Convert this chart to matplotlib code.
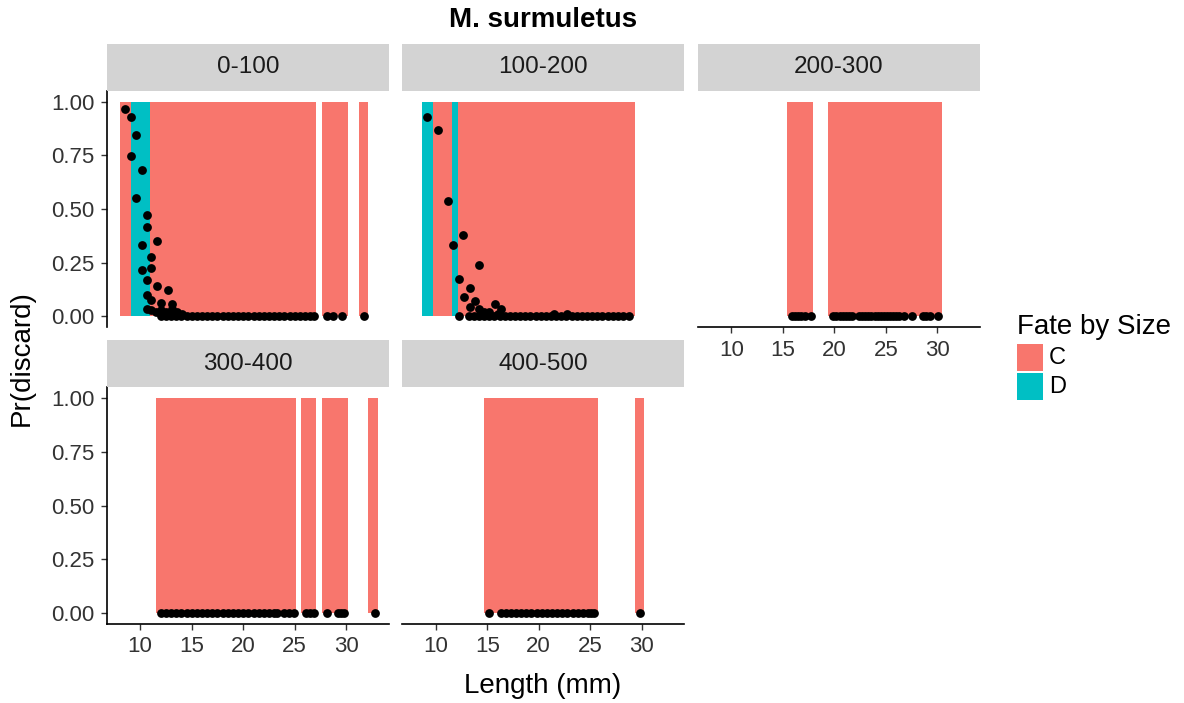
import matplotlib
matplotlib.use("Agg")
import matplotlib.pyplot as plt
from matplotlib.patches import Rectangle

plt.rcParams['font.family'] = ['Liberation Sans', 'DejaVu Sans']

# colours of the fate classes (ggplot default hues)
fate_colors = {"C": "#F8766D", "D": "#00BFC4"}
fate_labels = ["C", "D"]

panel_names = ["0-100", "100-200", "200-300", "300-400", "400-500"]

# bars: start, end and fate per run of lengths (mm), for each depth panel
bar_start = {
    "0-100":   [8.0, 9.07, 11.0, 27.6, 31.2],
    "100-200": [8.68, 9.69, 11.57, 12.2],
    "200-300": [15.4, 19.4],
    "300-400": [11.57, 25.6, 27.66, 32.1],
    "400-500": [14.7, 29.32],
}
bar_end = {
    "0-100":   [9.07, 11.0, 27.03, 30.2, 32.1],
    "100-200": [9.69, 11.57, 12.2, 29.32],
    "200-300": [17.9, 30.46],
    "300-400": [25.14, 27.07, 30.17, 33.1],
    "400-500": [25.76, 30.2],
}
bar_fate = {
    "0-100":   ["C", "D", "C", "C", "C"],
    "100-200": ["D", "C", "D", "C"],
    "200-300": ["C", "C"],
    "300-400": ["C", "C", "C", "C"],
    "400-500": ["C", "C"],
}

# points: length and probability of discard
pt_x = {
    "0-100": [8.51, 9.13, 9.56, 9.13, 10.14, 9.56, 10.63, 10.63, 10.14, 11.64,
              11.05, 10.14, 11.05, 10.63, 11.64, 12.68, 10.63, 11.05, 12.06, 13.08,
              10.63, 11.05, 11.5, 12.06, 12.5, 13.08, 13.6, 14.1,
              12.0, 12.5, 13.0, 13.5, 14.0, 14.5, 15.0, 15.5, 16.0, 16.5,
              17.0, 17.5, 18.0, 18.5, 19.0, 19.5, 20.0, 20.5, 21.0, 21.5,
              22.0, 22.5, 23.0, 23.5, 24.0, 24.5, 25.0, 25.5, 26.0, 26.5, 26.9,
              28.1, 28.7, 29.6, 31.7],
    "100-200": [9.17, 10.2, 11.22, 12.69, 11.67, 14.19, 12.26, 13.3, 12.72, 13.77,
                15.78, 13.3, 14.19, 16.3, 14.7, 15.2, 12.26, 16.0, 21.5, 22.8,
                13.2, 13.7, 14.2, 14.7, 15.2, 15.7, 16.2, 16.7, 17.2, 17.7,
                18.2, 18.7, 19.2, 19.7, 20.2, 20.7, 21.2, 21.7, 22.2, 22.7,
                23.2, 23.7, 24.2, 24.7, 25.2, 25.7, 26.2, 26.7, 27.2, 27.7,
                28.2, 28.8],
    "200-300": [15.9, 16.2, 16.5, 16.8, 17.1, 17.7,
                19.9, 20.2, 20.5, 20.8, 21.1, 21.4, 21.75,
                22.4, 22.7, 23.0, 23.3, 23.6, 23.9, 24.2, 24.5, 24.8, 25.1,
                25.4, 25.7, 26.0, 26.3, 26.8, 27.5, 28.6, 28.9, 29.25, 30.07],
    "300-400": [12.0, 12.5, 13.0, 13.5, 14.0, 14.5, 15.0, 15.5, 16.0, 16.5,
                17.0, 17.5, 18.0, 18.5, 19.0, 19.5, 20.0, 20.5, 21.0, 21.5,
                22.0, 22.5, 23.0, 23.3, 24.0, 24.4, 24.9,
                26.1, 26.5, 26.9, 28.1, 29.2, 29.5, 29.8, 32.75],
    "400-500": [15.2, 16.3, 16.8, 17.3, 17.8, 18.3, 18.8, 19.3, 19.8, 20.3,
                20.8, 21.3, 21.8, 22.3, 22.8, 23.3, 23.8, 24.3, 24.8, 25.1,
                25.4, 29.8],
}
pt_y = {
    "0-100": [0.966, 0.93, 0.845, 0.746, 0.684, 0.549, 0.471, 0.415, 0.33, 0.352,
              0.277, 0.218, 0.225, 0.168, 0.141, 0.121, 0.097, 0.077, 0.064, 0.058,
              0.035, 0.027, 0.022, 0.027, 0.022, 0.035, 0.02, 0.01,
              0, 0, 0, 0, 0, 0, 0, 0, 0, 0,
              0, 0, 0, 0, 0, 0, 0, 0, 0, 0,
              0, 0, 0, 0, 0, 0, 0, 0, 0, 0, 0,
              0, 0, 0, 0],
    "100-200": [0.93, 0.87, 0.535, 0.38, 0.33, 0.24, 0.175, 0.133, 0.091, 0.07,
                0.058, 0.042, 0.035, 0.035, 0.02, 0.02, 0, 0.01, 0.01, 0.01,
                0, 0, 0, 0, 0, 0, 0, 0, 0, 0,
                0, 0, 0, 0, 0, 0, 0, 0, 0, 0,
                0, 0, 0, 0, 0, 0, 0, 0, 0, 0,
                0, 0],
    "200-300": [0, 0, 0, 0, 0, 0,
                0, 0, 0, 0, 0, 0, 0,
                0, 0, 0, 0, 0, 0, 0, 0, 0, 0,
                0, 0, 0, 0, 0, 0, 0, 0, 0, 0],
    "300-400": [0, 0, 0, 0, 0, 0, 0, 0, 0, 0,
                0, 0, 0, 0, 0, 0, 0, 0, 0, 0,
                0, 0, 0, 0, 0, 0, 0,
                0, 0, 0, 0, 0, 0, 0, 0],
    "400-500": [0, 0, 0, 0, 0, 0, 0, 0, 0, 0,
                0, 0, 0, 0, 0, 0, 0, 0, 0, 0,
                0, 0],
}

x_ticks = [10, 15, 20, 25, 30]
y_ticks = [0.0, 0.25, 0.5, 0.75, 1.0]
y_ticklabels = ["0.00", "0.25", "0.50", "0.75", "1.00"]

W, H = 1184, 703
fig = plt.figure(figsize=(W / 100, H / 100), dpi=100)

# panel boxes in pixels: left, right, top, bottom
col_x = [(106.7, 389.0), (402.3, 684.3), (698.0, 980.0)]
row_y = [(91.0, 327.0), (387.3, 624.0)]
strip_h = 47.5
layout = {
    "0-100": (0, 0), "100-200": (0, 1), "200-300": (0, 2),
    "300-400": (1, 0), "400-500": (1, 1),
}
show_x = {"0-100": False, "100-200": False, "200-300": True,
          "300-400": True, "400-500": True}

tick_col = "#333333"
for name in panel_names:
    r, c = layout[name]
    x0, x1 = col_x[c]
    y0, y1 = row_y[r]
    ax = fig.add_axes([x0 / W, 1 - y1 / H, (x1 - x0) / W, (y1 - y0) / H])
    for s, e, f in zip(bar_start[name], bar_end[name], bar_fate[name]):
        ax.bar(s, 1.0, width=e - s, align="edge", color=fate_colors[f],
               edgecolor="none", zorder=1)
    ax.scatter(pt_x[name], pt_y[name], s=40, color="black", zorder=3,
               linewidths=0)
    ax.set_xlim(6.75, 34.15)
    ax.set_ylim(-0.05, 1.05)
    for sp in ["top", "right"]:
        ax.spines[sp].set_visible(False)
    ax.spines["left"].set_visible(c == 0)
    ax.spines["bottom"].set_visible(show_x[name])
    for sp in ["left", "bottom"]:
        ax.spines[sp].set_linewidth(1.2)
        ax.spines[sp].set_color("black")
    ax.tick_params(axis="both", length=4, width=1.0, color=tick_col,
                   labelsize=16, labelcolor=tick_col, pad=5)
    if c == 0:
        ax.set_yticks(y_ticks)
        ax.set_yticklabels(y_ticklabels)
    else:
        ax.set_yticks([])
    if show_x[name]:
        ax.set_xticks(x_ticks)
    else:
        ax.set_xticks([])
    ax.patch.set_alpha(0)

    # strip
    sx = fig.add_axes([x0 / W, 1 - y0 / H, (x1 - x0) / W, strip_h / H])
    sx.add_patch(Rectangle((0, 0), 1, 1, transform=sx.transAxes,
                           facecolor="#D3D3D3", edgecolor="none"))
    sx.set_axis_off()
    sx.text(0.5, 0.5, name, ha="center", va="center", fontsize=17.5,
            color="#1A1A1A", transform=sx.transAxes)

fig.text(543 / W, 1 - 20 / H, "M. surmuletus", ha="center", va="center",
         fontsize=20, fontweight="bold", color="black")
fig.text(543 / W, 1 - 686 / H, "Length (mm)", ha="center", va="center",
         fontsize=20, color="black")
fig.text(22 / W, 1 - 358 / H, "Pr(discard)", ha="center", va="center",
         fontsize=20, color="black", rotation=90)

# legend
fig.text(1017 / W, 1 - 327 / H, "Fate by Size", ha="left", va="center",
         fontsize=20, color="black")
for i, f in enumerate(fate_labels):
    ky = 344 + i * 29
    fig.patches.append(Rectangle((1017 / W, 1 - (ky + 27) / H), 26 / W, 27 / H,
                                 transform=fig.transFigure,
                                 facecolor=fate_colors[f], edgecolor="none"))
    fig.text(1049 / W, 1 - (ky + 14) / H, f, ha="left", va="center",
             fontsize=17, color="black")

fig.savefig("out.png", dpi=100)
